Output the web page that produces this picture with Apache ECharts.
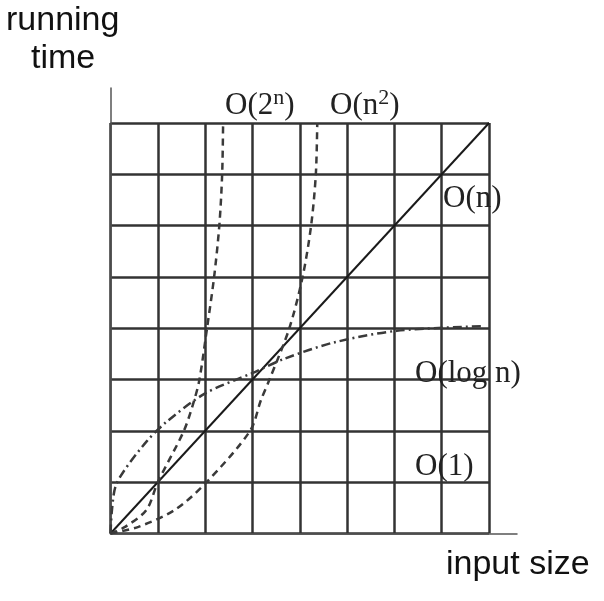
<!DOCTYPE html>
<html><head><meta charset="utf-8">
<script src="https://cdn.jsdelivr.net/npm/echarts/dist/echarts.min.js"></script>
<style>html,body{margin:0;padding:0;background:#fff}#c{width:604px;height:601px}</style>
</head><body><div id="c"></div>
<script>
// grid spans 0..8 in both directions
const gridMin = 0;
const gridMax = 8;
const gridStep = 1;
const linearData = [[0,0],[8,8]];
const expData = [[0,0],[0.31,0.13],[0.76,0.46],[1.0,1.0],[1.55,2],[1.77,2.6],[1.88,3],[2.04,4],[2.19,5],[2.30,6],[2.36,7],[2.38,8]];
const quadData = [[0,0],[0.59,0.13],[1.36,0.46],[2.03,1],[2.95,2],[3.18,2.6],[3.36,3],[3.78,4],[4.06,5],[4.24,6],[4.34,7],[4.37,8]];
const logData = [[0,0],[0.03,0.45],[0.1,0.9],[0.27,1.2],[0.76,1.79],[1.19,2.18],[2.0,2.73],[2.98,3.12],[3.69,3.41],[4.71,3.72],[6.05,3.95],[7.87,4.04]];
const curveLabels = ['{a|O(2}{s|n}{a|)}', '{a|O(n}{s|2}{a|)}', '{a|O(n)}', '{a|O(log n)}', '{a|O(1)}'];
const yTitle = ['running', 'time'];
const xTitle = 'input size';

const chart = echarts.init(document.getElementById('c'), null, {renderer: 'canvas'});
const rich = {
  a: {fontSize: 31, fontFamily: 'Liberation Serif', fill: '#222', verticalAlign: 'bottom', lineHeight: 34},
  s: {fontSize: 22, fontFamily: 'Liberation Serif', fill: '#222', verticalAlign: 'top', lineHeight: 22}
};
function lbl(text, x, y) {
  return {type: 'text', left: x, top: y, z: 100,
    style: {text: text, fontSize: 31, fontFamily: 'Liberation Serif', fill: '#222', rich: rich}};
}
const dashed = {color: '#3a3a3a', width: 2.5, type: [7, 5]};
const option = {
  animation: false,
  backgroundColor: '#fff',
  grid: [
    {left: 110.5, right: 115, top: 123, bottom: 67.5},
    {left: 110.5, right: 87, top: 88, bottom: 67.5}
  ],
  xAxis: [
    {type: 'value', gridIndex: 0, min: gridMin, max: gridMax, interval: gridStep,
     axisLine: {show: false}, axisTick: {show: false}, axisLabel: {show: false},
     splitLine: {show: true, lineStyle: {color: '#333', width: 2.5}}},
    {type: 'value', gridIndex: 1, min: 0, max: 1,
     axisLine: {show: true, lineStyle: {color: '#555', width: 1.5}}, axisTick: {show: false}, axisLabel: {show: false},
     splitLine: {show: false}}
  ],
  yAxis: [
    {type: 'value', gridIndex: 0, min: gridMin, max: gridMax, interval: gridStep,
     axisLine: {show: false}, axisTick: {show: false}, axisLabel: {show: false},
     splitLine: {show: true, lineStyle: {color: '#333', width: 2.5}}},
    {type: 'value', gridIndex: 1, min: 0, max: 1,
     axisLine: {show: true, lineStyle: {color: '#555', width: 1.5}}, axisTick: {show: false}, axisLabel: {show: false},
     splitLine: {show: false}}
  ],
  series: [
    {type: 'line', name: 'O(n)', data: linearData, showSymbol: false, symbol: 'none',
     lineStyle: {color: '#1a1a1a', width: 2}, z: 5},
    {type: 'line', name: 'O(2^n)', data: expData, showSymbol: false, symbol: 'none', smooth: 0.3,
     lineStyle: dashed, z: 5},
    {type: 'line', name: 'O(n^2)', data: quadData, showSymbol: false, symbol: 'none', smooth: 0.3,
     lineStyle: dashed, z: 5},
    {type: 'line', name: 'O(log n)', data: logData, showSymbol: false, symbol: 'none', smooth: 0.3,
     lineStyle: {color: '#3a3a3a', width: 2.5, type: [9, 4, 2, 4]}, z: 5}
  ],
  graphic: [
    lbl(curveLabels[0], 225, 87),
    lbl(curveLabels[1], 330, 87),
    lbl(curveLabels[2], 443, 183),
    lbl(curveLabels[3], 415, 358),
    lbl(curveLabels[4], 415, 451),
    {type: 'text', left: 6, top: 4, style: {text: yTitle[0], font: '34px "Liberation Sans"', fill: '#111'}},
    {type: 'text', left: 31, top: 42, style: {text: yTitle[1], font: '34px "Liberation Sans"', fill: '#111'}},
    {type: 'text', left: 446, top: 548, style: {text: xTitle, font: '34px "Liberation Sans"', fill: '#111'}}
  ]
};
chart.setOption(option);
</script></body></html>
